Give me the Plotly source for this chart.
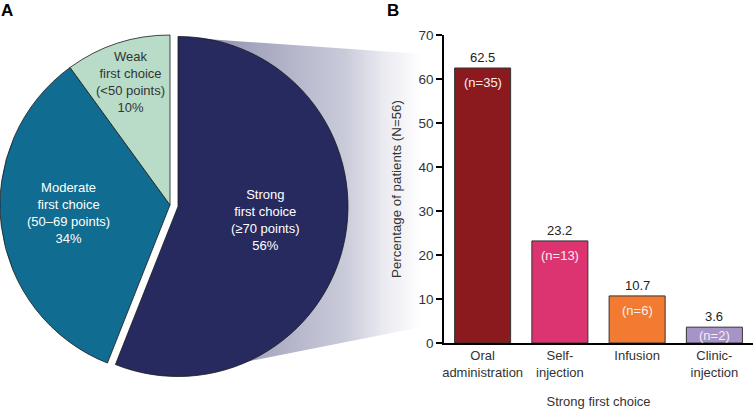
import plotly.graph_objs as go

# Panel A: strength of first choice
pie_labels = ['Strong<br>first choice<br>(≥70 points)',
              'Moderate<br>first choice<br>(50–69 points)',
              'Weak<br>first choice<br>(<50 points)']
pie_values = [56, 34, 10]
pie_colors = ['#272a5f', '#106c90', '#b8dcc8']
pie_text_colors = ['white', 'white', '#333333']
pie_label_pos = [(265, 220), (68, 213), (130, 82)]

# Panel B: strong first choice by route
bar_categories = ['Oral<br>administration', 'Self-<br>injection', 'Infusion', 'Clinic-<br>injection']
bar_values = [62.5, 23.2, 10.7, 3.6]
bar_counts = [35, 13, 6, 2]
bar_colors = ['#8b1a1e', '#db3470', '#f27a31', '#a694c9']

W, H = 753, 410
FONT = 'Arial, Liberation Sans, sans-serif'

data = []

# connector wedge with a fading gradient (drawn on a hidden full-page axis, x/y)
wedge_x = [178, 422, 422, 240, 178, 178]
wedge_y = [37, 54, 327, 363, 206, 37]
data.append(go.Scatter(
    x=wedge_x, y=wedge_y, xaxis='x', yaxis='y',
    mode='lines', line=dict(width=0), fill='toself',
    fillgradient=dict(type='horizontal',
                      colorscale=[[0, '#272a5f'], [0.12, '#7d7fa0'], [0.22, '#9a9bb8'],
                                  [0.45, '#b3b4c9'], [0.68, '#c9cad9'], [0.85, '#ebebf1'],
                                  [1, '#ffffff']]),
    hoverinfo='skip', showlegend=False,
))

# base pie (strong slice hidden), then the pulled-out strong slice
data.append(go.Pie(
    values=pie_values, labels=['Strong', 'Moderate', 'Weak'],
    sort=False, direction='clockwise', rotation=0,
    marker=dict(colors=['rgba(0,0,0,0)', pie_colors[1], pie_colors[2]],
                line=dict(color='#1a1a1a', width=[0, 0.8, 0.8])),
    textinfo='none', hoverinfo='skip', showlegend=False,
    domain=dict(x=[0 / W, 340 / W], y=[35 / H, 375 / H]),
))
data.append(go.Pie(
    values=[pie_values[0], sum(pie_values[1:])], labels=['Strong', 'rest'],
    sort=False, direction='clockwise', rotation=0,
    marker=dict(colors=[pie_colors[0], 'rgba(0,0,0,0)'],
                line=dict(color='#1a1a1a', width=[0.8, 0])),
    textinfo='none', hoverinfo='skip', showlegend=False,
    domain=dict(x=[8 / W, 348 / W], y=[33.5 / H, 373.5 / H]),
))

data.append(go.Bar(
    x=bar_categories, y=bar_values, xaxis='x2', yaxis='y2',
    marker=dict(color=bar_colors, line=dict(color='#333333', width=1)),
    width=0.725, showlegend=False, hoverinfo='skip',
))

annotations = []
for lab, val, col, (px, py) in zip(pie_labels, pie_values, pie_text_colors, pie_label_pos):
    annotations.append(dict(
        x=px / W, y=1 - py / H, xref='paper', yref='paper',
        xanchor='center', yanchor='middle',
        text=f'{lab}<br>{val}%', showarrow=False,
        font=dict(size=13, color=col, family=FONT), align='center',
    ))
for cat, val, n in zip(bar_categories, bar_values, bar_counts):
    annotations.append(dict(
        x=cat, y=val, xref='x2', yref='y2', text=f'{val}', showarrow=False,
        yanchor='bottom', yshift=1, font=dict(size=13, color='#222222', family=FONT),
    ))
    annotations.append(dict(
        x=cat, y=max(val - 3.2, val / 2), xref='x2', yref='y2', text=f'(n={n})', showarrow=False,
        yanchor='middle', font=dict(size=13, color='#f6eef2', family=FONT),
    ))
annotations.append(dict(x=7 / W, y=1 - 10 / H, xref='paper', yref='paper', text='<b>A</b>',
                        xanchor='center', yanchor='middle',
                        showarrow=False, font=dict(size=17, color='black', family=FONT)))
annotations.append(dict(x=393 / W, y=1 - 10 / H, xref='paper', yref='paper', text='<b>B</b>',
                        xanchor='center', yanchor='middle',
                        showarrow=False, font=dict(size=17, color='black', family=FONT)))

layout = go.Layout(
    width=W, height=H,
    margin=dict(l=0, r=0, t=0, b=0),
    paper_bgcolor='white', plot_bgcolor='rgba(0,0,0,0)',
    font=dict(family=FONT, color='#333333', size=13),
    xaxis=dict(domain=[0, 1], range=[0, W], visible=False, fixedrange=True),
    yaxis=dict(domain=[0, 1], range=[H, 0], visible=False, fixedrange=True),
    xaxis2=dict(
        domain=[444 / W, 1], range=[-0.5, 3.5], anchor='y2',
        showline=True, linecolor='black', linewidth=1.5,
        ticks='', showgrid=False, zeroline=False, automargin=False,
        tickfont=dict(size=13, color='#333333'),
        title=dict(text='Strong first choice', font=dict(size=13, color='#333333'), standoff=18),
    ),
    yaxis2=dict(
        domain=[67 / H, 375 / H], range=[0, 70], dtick=10, anchor='x2',
        showline=True, linecolor='black', linewidth=1.5,
        ticks='outside', ticklen=6, tickwidth=1.5, tickcolor='black',
        showgrid=False, zeroline=False, automargin=False,
        tickfont=dict(size=13.5, color='#333333'),
        title=dict(text='Percentage of patients (N=56)', font=dict(size=13.3, color='#333333'), standoff=14),
    ),
    annotations=annotations,
    bargap=0.275,
)

fig = go.Figure(data=data, layout=layout)
fig.write_html('out.html', config={'displayModeBar': False},
               post_script="document.body.style.margin='0';")
